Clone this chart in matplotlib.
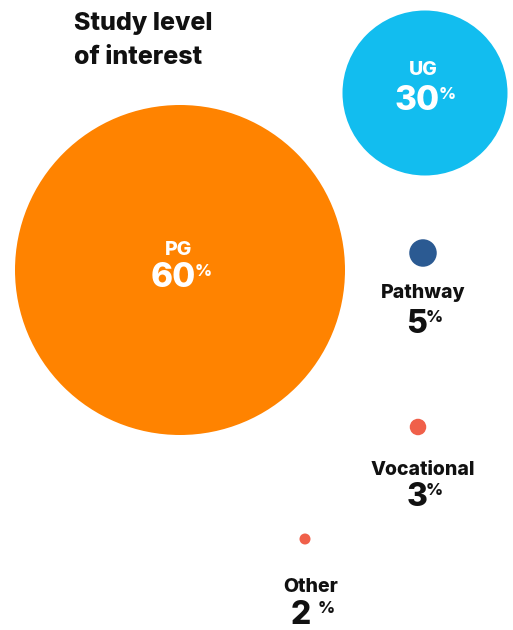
import matplotlib.pyplot as plt
from matplotlib.patches import Circle

# data
levels = ['PG', 'UG', 'Pathway', 'Vocational', 'Other']
shares = [60, 30, 5, 3, 2]
colors = ['#FF8300', '#12BDEF', '#2B5A92', '#F0604A', '#F0604A']

# layout (pixel coords, y down)
cx = [180, 425, 423, 418, 305]
cy = [270, 93, 253, 427, 539]
lx = [179, 423, 423, 423, 311]
label_y = [255, 75, 298, 475, 592]   # baselines
num_y = [287, 110, 333, 506, 624]
px_per_pct = 2.75
inside = [True, True, False, False, False]
num_text = ['60', '30', '5', '3', '2 ']

plt.rcParams['font.family'] = ['Inter', 'DejaVu Sans']
W = 800

fig = plt.figure(figsize=(5.13, 6.3), dpi=100)
ax = fig.add_axes([0, 0, 1, 1])
ax.set_xlim(0, 513)
ax.set_ylim(630, 0)
ax.axis('off')

ax.text(74, 12, 'Study level\nof interest', fontsize=18, fontweight=W,
        color='#111111', ha='left', va='top', linespacing=1.6)

for i, lev in enumerate(levels):
    r = shares[i] * px_per_pct
    ax.add_patch(Circle((cx[i], cy[i]), r, color=colors[i], lw=0))
    tc = 'white' if inside[i] else '#111111'
    nsize = 24 if inside[i] else 23
    ax.text(lx[i], label_y[i], lev, fontsize=14, fontweight=W, color=tc,
            ha='center', va='baseline')
    t = ax.text(lx[i] - 6, num_y[i], num_text[i], fontsize=nsize, fontweight=W,
                color=tc, ha='center', va='baseline')
    ax.annotate('%', xy=(1, num_y[i] - 11), xycoords=(t, 'data'),
                xytext=(-1, 0), textcoords='offset points', fontsize=12,
                fontweight=W, color=tc, ha='left', va='baseline')

fig.savefig('out.png', dpi=100)
